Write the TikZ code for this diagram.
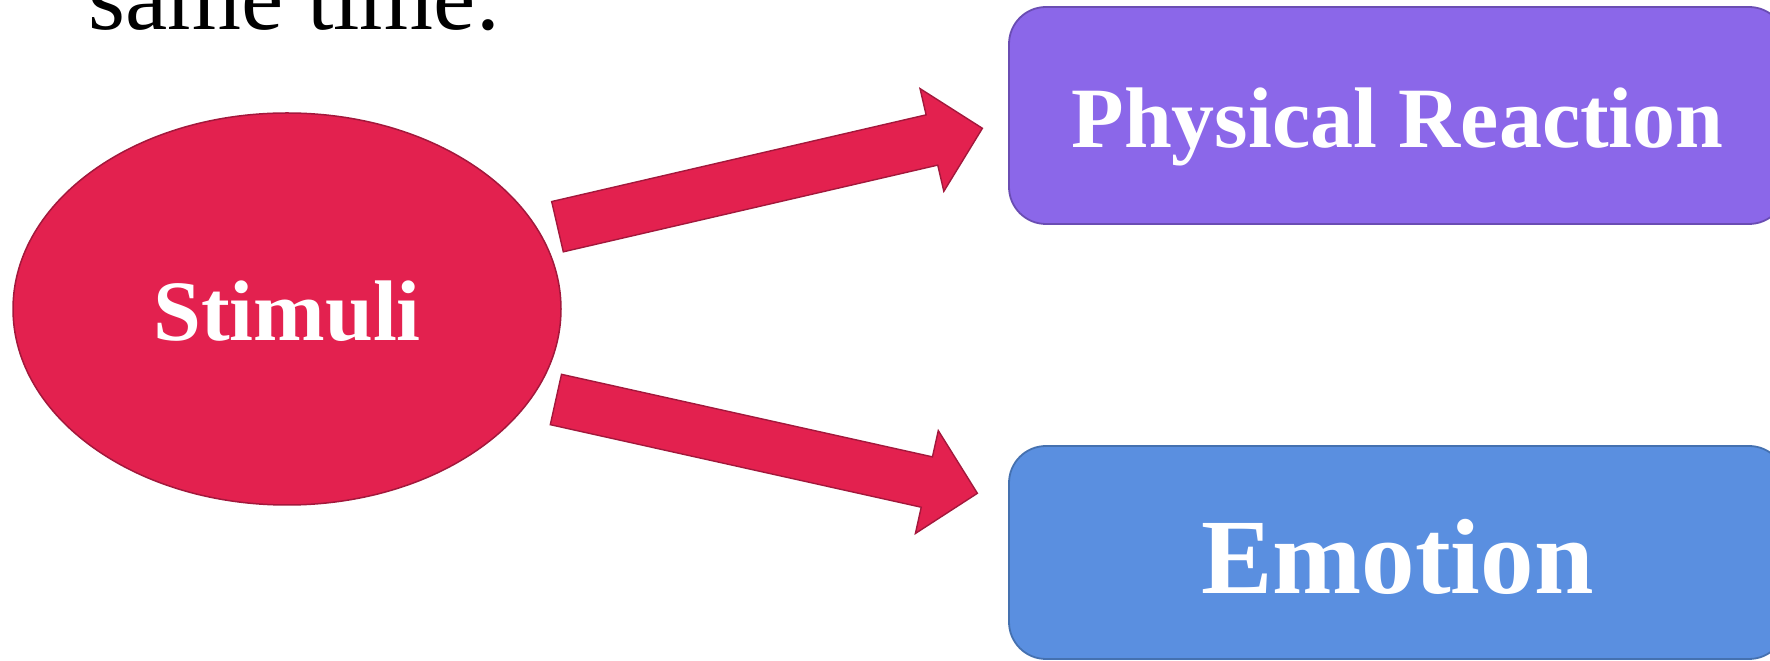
\documentclass[tikz,border=0pt]{standalone}
\usepackage{fontspec}
\setmainfont{Liberation Serif}
\usetikzlibrary{shapes.geometric,calc}

\definecolor{stimfill}{HTML}{E3214F}
\definecolor{stimedge}{HTML}{A3183C}
\definecolor{reactfill}{HTML}{8B67E9}
\definecolor{reactedge}{HTML}{6A4DB3}
\definecolor{emofill}{HTML}{5A8FE0}
\definecolor{emoedge}{HTML}{4571B0}

\newcommand{\shafthalf}{25.8pt}
\newcommand{\headhalf}{52.7pt}
\newcommand{\headlen}{51.8pt}
% block arrow from #1 (tail middle) to #2 (tip)
\newcommand{\blockarrow}[2]{%
  \draw[blockarrow]
    ($(#1)!\shafthalf!90:(#2)$)
    -- ($(#2)!\headlen!(#1)!\shafthalf!-90:(#1)$)
    -- ($(#2)!\headlen!(#1)!\headhalf!-90:(#1)$)
    -- (#2)
    -- ($(#2)!\headlen!(#1)!\headhalf!90:(#1)$)
    -- ($(#2)!\headlen!(#1)!\shafthalf!90:(#1)$)
    -- ($(#1)!\shafthalf!-90:(#2)$)
    -- cycle;}

\begin{document}
\begin{tikzpicture}[
  x=1pt,y=1pt,
  stimnode/.style={ellipse,fill=stimfill,draw=stimedge,line width=1.5pt,
    minimum width=548pt,minimum height=392pt,inner sep=0pt,text=white,
    font=\fontsize{86}{90}\selectfont\bfseries,text height=63.4pt,text depth=0pt},
  resultbox/.style={rectangle,rounded corners=37pt,line width=1.8pt,
    minimum width=777pt,inner sep=0pt,text=white,text depth=0pt},
  blockarrow/.style={fill=stimfill,draw=stimedge,line width=1.4pt,line join=miter},
  bodytext/.style={anchor=base west,inner sep=0pt,font=\fontsize{95}{100}\selectfont}
]
  \useasboundingbox (0,0) rectangle (1770,661);

  \node[bodytext] (sametime) at (88,631) {same time.};

  \node[stimnode] (stimuli) at (287,352) {Stimuli};

  \node[resultbox,fill=reactfill,draw=reactedge,minimum height=217pt,
    font=\fontsize{86}{90}\selectfont\bfseries,text height=64pt]
    (reaction) at (1397.5,545.5) {Physical Reaction};
  \node[resultbox,fill=emofill,draw=emoedge,minimum height=213pt,
    font=\fontsize{107}{110}\selectfont\bfseries,text height=83pt]
    (emotion) at (1397.5,108.5) {Emotion};

  \coordinate (upTail) at ($(stimuli.center)+(270.5,82.3)$);
  \coordinate (upTip) at ($(reaction.west)+(-25.7,-12.8)$);
  \coordinate (downTail) at ($(stimuli.center)+(268.9,-90.5)$);
  \coordinate (downTip) at ($(emotion.west)+(-30.7,59.2)$);

  \blockarrow{upTail}{upTip}
  \blockarrow{downTail}{downTip}
\end{tikzpicture}
\end{document}
